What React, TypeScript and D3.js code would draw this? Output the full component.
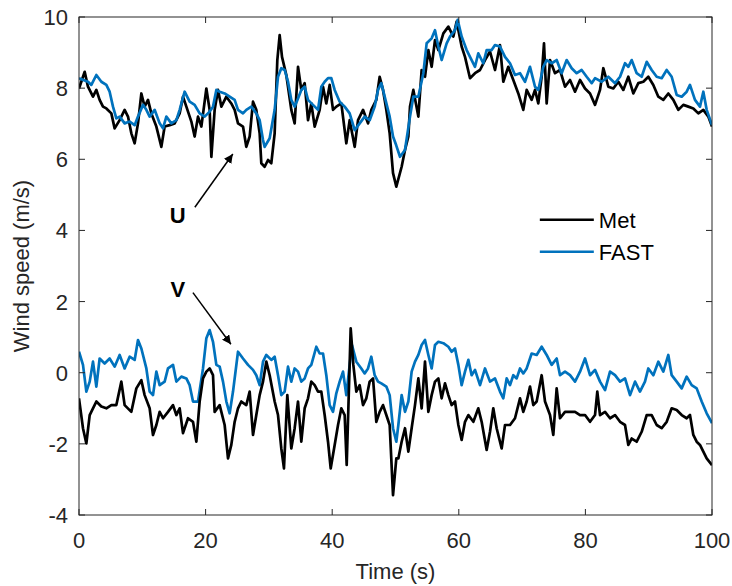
import React from "react";
import * as d3 from "d3";

// ---------- DATA ----------
const xTicks = [0, 20, 40, 60, 80, 100];
const yTicks = [-4, -2, 0, 2, 4, 6, 8, 10];
const seriesNames = ["Met", "FAST"];

// U component, FAST
const fastUTime = [0,1.42,1.95,2.74,3.53,4.32,4.84,5.37,5.9,6.42,7.21,8,8.79,9.32,10.11,10.64,11.16,11.95,12.74,13.27,13.8,14.59,15.38,15.9,16.69,17.48,18.27,19.06,19.85,20.64,21.17,21.7,22.22,23.01,23.8,24.59,25.12,25.91,26.43,27.22,28.01,28.54,29.07,29.33,30.12,30.91,31.44,31.96,32.49,33.02,33.54,34.07,34.6,35.12,35.65,36.18,36.97,37.76,38.28,38.81,39.34,39.86,40.39,41.18,41.97,42.76,43.55,44.34,45.13,45.92,46.71,47.24,47.76,48.29,49.08,49.61,50.1,50.71,51.5,52.29,52.82,53.61,54.4,54.92,55.71,56.24,56.77,57.29,58.08,58.61,59.4,59.82,60.45,61.24,61.77,62.56,63.08,63.87,64.4,65.19,65.72,66.51,67.3,68.09,68.88,69.67,70.46,71.25,72.04,72.56,73.35,73.88,74.67,75.46,76.25,77.04,77.83,78.62,79.41,80.2,80.99,81.52,82.57,83.62,84.68,85.47,86.26,86.78,87.31,88.1,88.89,89.68,90.47,91.26,92.05,92.84,93.63,94.42,95.21,96,96.52,97.31,98.1,98.63,99.16,100];
const fastUValue = [8.28,8.18,8.09,8.37,8.18,8.09,7.9,7.48,7.15,7.2,7.01,7.06,6.96,7.2,7.53,7.39,7.2,7.39,7.01,6.87,7.2,7.01,7.1,7.39,7.9,7.62,7.53,7.29,7.2,7.34,7.48,7.95,7.9,7.85,7.76,7.67,7.39,7.29,7.39,7.48,7.29,7.1,6.54,6.35,6.59,7.39,8.32,8.56,8.51,8.18,7.67,7.48,7.71,7.95,8.04,7.67,7.53,7.39,8.04,8.18,8.28,8.28,7.95,7.62,7.48,7.29,6.82,7.01,7.2,7.1,7.48,7.95,8.14,7.76,7.2,6.64,6.4,6.07,6.26,7.2,7.76,7.76,8.42,9.26,9.4,9.63,9.17,8.79,9.26,9.45,9.63,9.92,9.45,9.07,8.88,8.6,8.98,8.7,9.07,9.07,9.21,9.17,8.88,8.7,8.37,8.42,8.18,8.6,8.04,7.95,8.6,8.79,8.7,8.79,8.42,8.79,8.56,8.42,8.51,8.32,8.14,8.28,8.18,8.32,8.14,8.32,8.7,8.6,8.79,8.42,8.32,8.74,8.51,8.32,8.28,8.51,8.32,7.81,7.76,7.9,8.09,7.67,7.48,7.9,7.39,6.96];

// U component, Met
const metUTime = [0,0.9,1.42,2.21,2.74,3.26,3.79,4.32,5.11,5.63,6.42,7.21,7.74,8.27,8.79,9.32,9.85,10.37,10.9,11.43,12.22,13.01,13.53,14.32,15.11,15.9,16.43,16.96,17.75,18.27,18.8,19.33,20.12,20.64,20.91,21.43,21.96,22.49,23.28,24.06,24.59,25.12,25.91,26.43,26.96,27.49,28.01,28.54,28.8,29.33,29.86,30.38,30.91,31.33,31.7,32.07,32.75,33.54,34.07,34.6,35.12,35.65,36.18,36.7,37.23,38.02,38.55,39.07,39.6,40.13,40.65,41.44,42.23,42.76,43.55,44.08,44.87,45.66,46.18,46.97,47.5,48.03,48.55,49.08,49.61,50.13,50.97,51.5,52.03,52.29,52.82,53.61,54.13,54.66,55.19,55.71,56.24,56.77,57.56,58.35,59.14,59.66,60.45,60.98,61.77,62.56,63.35,64.14,64.93,65.72,66.51,67.03,67.82,68.61,69.4,70.19,70.72,71.51,72.04,72.56,73.09,73.46,73.88,74.41,75.2,75.99,76.78,77.57,78.36,79.15,79.94,80.73,81.52,82.31,82.83,83.62,84.41,85.2,85.99,86.78,87.57,88.36,89.15,89.94,90.73,91.52,92.31,93.1,93.89,94.68,95.47,96.26,97.05,97.84,98.63,99.42,100];
const metUValue = [7.99,8.46,8.04,7.76,7.95,7.67,7.48,7.43,7.29,6.87,7.1,7.39,7.2,6.73,6.45,7.01,7.85,7.48,7.67,7.29,6.92,6.35,6.92,6.96,7.01,7.29,7.76,7.48,7.06,6.64,7.2,6.92,7.99,7.39,6.07,7.39,7.95,7.48,7.76,7.57,7.39,7.01,6.92,6.35,6.64,7.62,7.39,6.73,5.89,5.79,5.98,5.89,6.73,8.79,9.49,8.88,8.37,7.39,7.01,8.6,7.95,8.14,7.1,7.57,6.92,7.39,8.04,7.57,8.09,7.39,7.48,7.57,6.45,7.1,6.35,7.1,7.39,7.01,7.39,7.67,8.32,7.95,7.39,6.73,5.61,5.23,5.79,6.26,6.64,7.48,7.95,7.2,8.51,8.32,9.07,8.6,9.35,9.07,9.54,9.73,9.45,9.87,9.17,8.88,8.28,8.42,8.51,8.79,9.03,8.51,9.21,8.18,8.6,8.23,7.85,7.39,7.95,7.67,7.95,7.57,8.32,9.26,7.57,8.79,8.42,8.51,8.04,8.23,7.9,8.23,7.99,7.85,7.53,7.95,8.56,8.04,7.99,8.18,7.95,8.32,7.85,8.14,8.18,8.32,8.09,7.76,7.67,7.85,7.67,7.39,7.53,7.48,7.43,7.29,7.39,7.2,6.92];

// V component, FAST
const fastVTime = [0,0.63,1.16,1.69,2.21,2.74,3.26,4.05,4.84,5.63,6.42,7.21,8,8.79,9.32,9.85,10.64,11.16,11.69,12.22,12.74,13.53,14.06,14.85,15.38,16.17,16.96,17.48,18.01,18.8,19.59,20.12,20.64,21.17,21.7,22.22,22.75,23.28,23.8,24.33,25.12,25.91,26.7,27.49,28.01,28.54,29.07,29.59,30.38,30.91,31.44,31.96,32.49,33.02,33.54,34.07,34.6,35.12,35.65,36.18,36.7,37.49,38.02,38.55,39.07,39.6,40.13,40.65,41.18,41.71,42.23,42.76,43.13,43.81,44.6,45.13,45.66,46.18,46.71,47.24,47.76,48.55,49.08,49.61,50.13,50.45,50.97,51.5,52.03,52.55,53.08,53.61,54.13,54.66,55.19,55.71,56.24,56.77,57.56,58.35,58.87,59.4,59.93,60.45,60.98,61.51,62.03,62.56,63.35,64.14,64.93,65.72,66.51,67.03,67.56,68.09,68.61,69.14,69.67,70.19,70.72,71.51,72.3,73.09,73.88,74.67,75.46,75.99,76.78,77.57,78.36,79.15,79.94,80.73,81.52,82.31,83.1,83.89,84.68,85.47,86.26,87.05,87.84,88.62,89.41,89.94,90.73,91.52,92.31,93.1,93.63,94.42,95.21,96,96.79,97.58,98.37,99.16,100];
const fastVValue = [0.59,0.22,-0.53,-0.25,0.31,-0.39,0.4,0.26,0.4,0.17,0.5,0.12,0.45,0.36,0.92,0.68,0.12,-0.53,-0.63,0.03,-0.35,-0.25,0.12,0.22,-0.25,-0.11,-0.16,-0.35,-0.81,-0.81,0.12,0.97,1.2,0.87,0.22,0.17,-0.25,-0.81,-1.14,-0.53,0.59,0.4,0.22,0.08,-0.07,-0.35,0.31,0.5,0.36,0.45,-0.07,-0.63,-0.53,0.17,-0.25,0.12,0.03,-0.25,-0.16,0.12,0.22,0.73,0.54,0.54,-0.07,-0.91,-1.1,-0.58,-0.25,0.03,-0.63,0.22,0.78,0.31,0.12,-0.02,0.12,0.45,-0.07,-0.25,-0.3,-0.39,-0.63,-1.56,-1.94,-1.47,-0.63,-1.1,-0.81,0.03,0.31,0.5,0.78,0.92,0.5,0.12,0.78,0.87,0.83,0.73,0.59,0.68,0.22,-0.35,0.03,0.36,-0.07,0.08,-0.35,0.12,-0.25,-0.16,-0.53,-0.72,-0.16,-0.35,-0.07,-0.16,0.12,-0.02,0.12,0.54,0.5,0.73,0.5,0.22,0.4,-0.07,0.03,-0.07,-0.25,0.03,0.4,-0.07,0.08,-0.25,-0.49,0.03,-0.07,-0.25,-0.16,-0.63,-0.25,-0.53,-0.25,0.12,-0.07,0.31,0.03,0.5,-0.07,-0.25,-0.44,-0.11,-0.35,-0.44,-0.81,-1.14,-1.42];

// V component, Met
const metVTime = [0,0.63,1.16,1.69,2.21,2.74,3.53,4.32,5.11,5.9,6.69,7.21,8.27,9.06,9.85,10.37,11.16,11.69,12.22,12.74,13.27,14.06,14.85,15.38,15.9,16.43,17.22,18.01,18.54,19.06,19.59,20.12,20.64,21.17,21.43,22.22,23.01,23.54,24.06,24.59,25.12,25.64,26.43,26.96,27.49,28.01,28.54,29.07,29.59,30.12,30.91,31.44,31.96,32.38,32.91,33.54,34.07,34.6,35.12,35.65,36.18,36.7,37.23,37.76,38.28,38.81,39.34,39.76,40.39,40.92,41.44,41.97,42.29,42.6,42.92,43.34,43.81,44.34,44.87,45.39,45.92,46.45,46.97,47.5,48.03,48.55,49.08,49.61,50.13,50.45,50.97,51.5,52.03,52.55,53.08,53.61,54.13,54.66,55.19,55.71,56.24,56.77,57.29,57.82,58.35,58.87,59.4,59.93,60.45,60.98,61.51,62.3,63.08,63.61,64.4,64.93,65.45,65.98,66.77,67.3,68.09,68.88,69.67,70.19,70.72,71.25,71.77,72.3,73.09,73.62,74.41,74.93,75.46,75.99,76.78,77.57,78.36,79.15,79.94,80.73,81.52,81.88,82.31,83.1,83.89,84.68,85.47,86.26,86.78,87.31,88.1,88.89,89.68,90.47,91.26,92.05,92.84,93.63,94.42,95.21,96,96.52,97.05,97.58,98.1,98.63,99.16,100];
const metVValue = [-0.72,-1.56,-1.99,-1.19,-1,-0.81,-0.95,-1,-0.91,-0.91,-0.25,-0.91,-1.1,-0.44,-0.21,-0.63,-1,-1.75,-1.47,-1.1,-1.28,-1.1,-0.91,-1.19,-1,-1.7,-1.28,-1.38,-1.94,-0.81,-0.16,0.03,0.12,-0.07,-1.1,-0.91,-1.47,-2.41,-2.03,-1.38,-1,-0.81,-0.91,-0.53,-1.75,-1.19,-0.63,-0.25,0.31,-0.07,-0.81,-1.19,-2.13,-2.69,-0.63,-2.13,-1.56,-0.81,-1.94,-1,-0.72,-0.25,-0.35,-0.53,-0.53,-1.19,-1.94,-2.69,-2.03,-1.47,-1,-1.19,-2.59,-0.72,1.25,0.22,-0.53,-0.35,-0.91,-0.72,-0.25,-0.16,-1.38,-1.1,-0.91,-1.19,-1.47,-3.44,-2.41,-2.41,-1.94,-1.56,-2.22,-1.56,-0.91,-0.16,-1,0.31,-1.1,-0.63,-0.25,-0.16,-0.72,-0.3,-0.63,-0.91,-0.81,-1.47,-1.89,-1.38,-1.19,-1.38,-1,-1.38,-2.17,-1.66,-1,-1.56,-2.13,-1.47,-1.47,-1.28,-0.72,-1.1,-0.81,-0.39,-0.91,-0.81,-0.07,-0.81,-1.19,-1.75,-0.44,-1.28,-1.1,-1.1,-1.1,-1.19,-1.19,-1.38,-1.19,-0.53,-1.19,-1.1,-1.28,-1.19,-1.38,-1.47,-2.03,-1.85,-1.94,-1.66,-1.19,-1.19,-1.47,-1.56,-1.38,-1,-1.05,-1.19,-1.28,-1.19,-1.75,-1.94,-2.03,-2.22,-2.41,-2.6];

// ---------- CHART ----------
const W = 732;
const H = 586;
const M = { left: 79, right: 20, top: 17, bottom: 71 };
const FONT = "'Liberation Sans', Arial, Helvetica, sans-serif";
const AXIS = "#262626";
const BLUE = "#0072BD";

export default function App() {
  const iw = W - M.left - M.right;
  const ih = H - M.top - M.bottom;
  const x = d3.scaleLinear().domain([0, 100]).range([0, iw]);
  const y = d3.scaleLinear().domain([-4, 10]).range([ih, 0]);
  const line = d3
    .line<[number, number]>()
    .x((d) => x(d[0]))
    .y((d) => y(d[1]));
  const zip = (t: number[], v: number[]) =>
    t.map((ti, i) => [ti, v[i]] as [number, number]);

  const series = [
    { d: zip(metUTime, metUValue), c: "#000" },
    { d: zip(fastUTime, fastUValue), c: BLUE },
    { d: zip(fastVTime, fastVValue), c: BLUE },
    { d: zip(metVTime, metVValue), c: "#000" },
  ];
  const tickLen = 6;

  return (
    <svg
      width={W}
      height={H}
      style={{ position: "absolute", left: 0, top: 0, background: "#fff" }}
      fontFamily={FONT}
    >
      <defs>
        <marker
          id="arr"
          viewBox="0 0 10 10"
          refX="10"
          refY="5"
          markerWidth="9"
          markerHeight="9"
          markerUnits="userSpaceOnUse"
          orient="auto"
        >
          <path d="M0,0 L10,5 L0,10 z" fill="#000" />
        </marker>
      </defs>
      <g transform={`translate(${M.left},${M.top})`}>
        <clipPath id="clip">
          <rect x={0} y={0} width={iw} height={ih} />
        </clipPath>
        <g clipPath="url(#clip)">
          {series.map((s, i) => (
            <path
              key={i}
              d={line(s.d) || ""}
              fill="none"
              stroke={s.c}
              strokeWidth={2.7}
              strokeLinejoin="round"
            />
          ))}
        </g>
        {/* box */}
        <rect x={0} y={0} width={iw} height={ih} fill="none" stroke={AXIS} strokeWidth={1} />
        {/* x ticks */}
        {xTicks.map((t) => (
          <g key={"x" + t}>
            <line x1={x(t)} x2={x(t)} y1={ih} y2={ih - tickLen} stroke={AXIS} />
            <line x1={x(t)} x2={x(t)} y1={0} y2={tickLen} stroke={AXIS} />
            <text
              x={x(t)}
              y={ih + 33}
              textAnchor="middle"
              fontSize={22}
              fill={AXIS}
            >
              {t}
            </text>
          </g>
        ))}
        {yTicks.map((t) => (
          <g key={"y" + t}>
            <line x1={0} x2={tickLen} y1={y(t)} y2={y(t)} stroke={AXIS} />
            <line x1={iw} x2={iw - tickLen} y1={y(t)} y2={y(t)} stroke={AXIS} />
            <text
              x={-11}
              y={y(t) + 8}
              textAnchor="end"
              fontSize={22}
              fill={AXIS}
            >
              {t}
            </text>
          </g>
        ))}
        <text
          x={iw / 2}
          y={ih + 64}
          textAnchor="middle"
          fontSize={22}
          fill={AXIS}
        >
          Time (s)
        </text>
        <text
          transform={`translate(${-50},${ih / 2}) rotate(-90)`}
          textAnchor="middle"
          fontSize={22}
          fill={AXIS}
        >
          Wind speed (m/s)
        </text>
        {/* annotations */}
        <text x={x(15.6)} y={y(4.21)} textAnchor="middle" fontSize={22} fontWeight="bold" fill="#000">
          U
        </text>
        <line
          x1={x(18.3)}
          y1={y(4.65)}
          x2={x(24.3)}
          y2={y(6.15)}
          stroke="#000"
          strokeWidth={1.5}
          markerEnd="url(#arr)"
        />
        <text x={x(15.6)} y={y(2.13)} textAnchor="middle" fontSize={22} fontWeight="bold" fill="#000">
          V
        </text>
        <line
          x1={x(18)}
          y1={y(2.25)}
          x2={x(24)}
          y2={y(0.8)}
          stroke="#000"
          strokeWidth={1.5}
          markerEnd="url(#arr)"
        />
        {/* legend */}
        {seriesNames.map((n, i) => (
          <g key={n} transform={`translate(${x(72.8)},${y(4.3) + i * 32})`}>
            <line x1={0} x2={54} y1={0} y2={0} stroke={i === 0 ? "#000" : BLUE} strokeWidth={2.6} />
            <text x={59} y={8} fontSize={22} fill="#000">
              {n}
            </text>
          </g>
        ))}
      </g>
    </svg>
  );
}
